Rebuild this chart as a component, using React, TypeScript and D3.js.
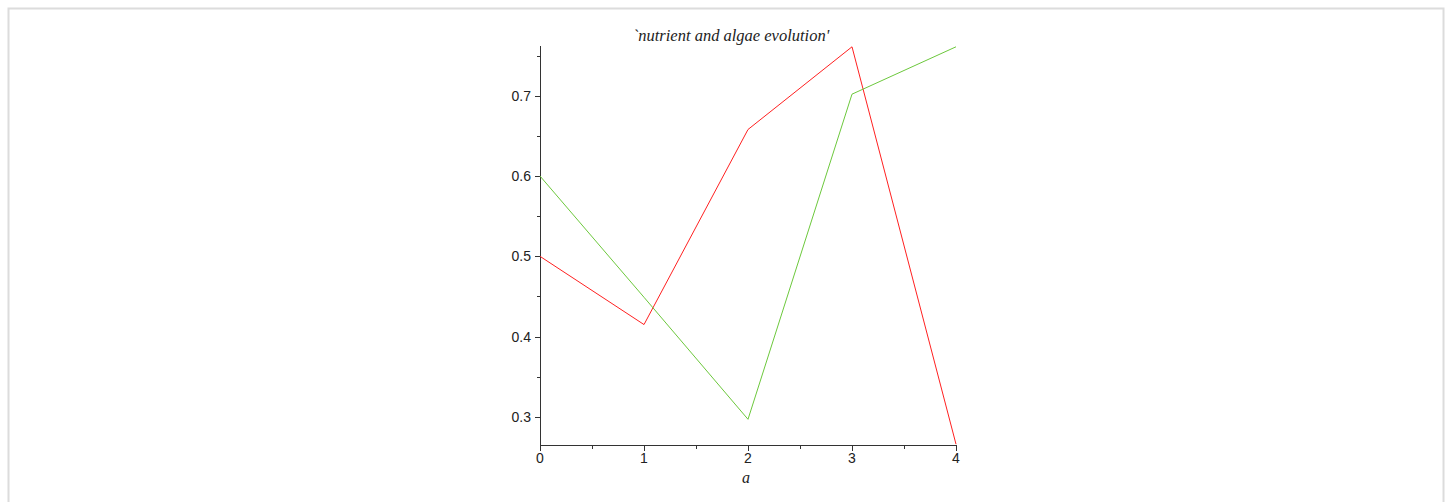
import React, { useEffect, useRef } from 'react';
import * as d3 from 'd3';

// x values (a) and the two series
const aValues = [0, 1, 2, 3, 4];
const nutrient = [0.5, 0.415, 0.658, 0.761, 0.266];
const algae = [0.6, 0.449, 0.297, 0.702, 0.761];
const xTicks = [0, 1, 2, 3, 4];
const xMinorTicks = [0.5, 1.5, 2.5, 3.5];
const yTicks = [0.3, 0.4, 0.5, 0.6, 0.7];
const yMinorTicks = [0.35, 0.45, 0.55, 0.65, 0.75];
const title = "`nutrient and algae evolution'";
const xLabel = 'a';

export default function App() {
  const ref = useRef<SVGSVGElement>(null);

  useEffect(() => {
    const svg = d3.select(ref.current);
    svg.selectAll('*').remove();

    // page frame
    svg.append('rect')
      .attr('x', 8.5).attr('y', 8.5)
      .attr('width', 1435).attr('height', 500)
      .attr('fill', 'none')
      .attr('stroke', '#dcdcdc')
      .attr('stroke-width', 2);

    const x = d3.scaleLinear().domain([0, 4]).range([540, 956]);
    const y = d3.scaleLinear().domain([0.265, 0.762]).range([445, 46]);

    const axisColor = '#333';
    const g = svg.append('g');

    // y axis
    g.append('line')
      .attr('x1', 540.5).attr('x2', 540.5)
      .attr('y1', y(0.762)).attr('y2', 445.5)
      .attr('stroke', axisColor);
    g.selectAll('.ytick').data(yTicks).enter().append('line')
      .attr('x1', 535).attr('x2', 540)
      .attr('y1', d => Math.round(y(d)) + 0.5).attr('y2', d => Math.round(y(d)) + 0.5)
      .attr('stroke', axisColor);
    g.selectAll('.yminor').data(yMinorTicks).enter().append('line')
      .attr('x1', 537).attr('x2', 540)
      .attr('y1', d => Math.round(y(d)) + 0.5).attr('y2', d => Math.round(y(d)) + 0.5)
      .attr('stroke', axisColor);
    g.selectAll('.ylab').data(yTicks).enter().append('text')
      .attr('x', 531).attr('y', d => y(d) + 5)
      .attr('text-anchor', 'end')
      .attr('font-family', 'Liberation Sans, sans-serif')
      .attr('font-size', 14)
      .attr('fill', '#222')
      .text(d => d3.format('.1f')(d));

    // x axis
    g.append('line')
      .attr('x1', 540).attr('x2', 956)
      .attr('y1', 445.5).attr('y2', 445.5)
      .attr('stroke', axisColor);
    g.selectAll('.xtick').data(xTicks).enter().append('line')
      .attr('x1', d => Math.round(x(d)) + 0.5).attr('x2', d => Math.round(x(d)) + 0.5)
      .attr('y1', 445).attr('y2', 451)
      .attr('stroke', axisColor);
    g.selectAll('.xminor').data(xMinorTicks).enter().append('line')
      .attr('x1', d => Math.round(x(d)) + 0.5).attr('x2', d => Math.round(x(d)) + 0.5)
      .attr('y1', 445).attr('y2', 449)
      .attr('stroke', axisColor);
    g.selectAll('.xlab').data(xTicks).enter().append('text')
      .attr('x', d => x(d)).attr('y', 463)
      .attr('text-anchor', 'middle')
      .attr('font-family', 'Liberation Sans, sans-serif')
      .attr('font-size', 14)
      .attr('fill', '#222')
      .text(d => String(d));

    g.append('text')
      .attr('x', 746).attr('y', 483)
      .attr('text-anchor', 'middle')
      .attr('font-family', 'Liberation Serif, serif')
      .attr('font-style', 'italic')
      .attr('font-size', 16)
      .attr('fill', '#222')
      .text(xLabel);

    // title
    svg.append('text')
      .attr('x', 731).attr('y', 41)
      .attr('text-anchor', 'middle')
      .attr('font-family', 'Liberation Serif, serif')
      .attr('font-style', 'italic')
      .attr('font-size', 16.5)
      .attr('fill', '#222')
      .text(title);

    const line = d3.line<number>()
      .x((_, i) => x(aValues[i]))
      .y(d => y(d));

    svg.append('path')
      .datum(nutrient)
      .attr('d', line)
      .attr('fill', 'none')
      .attr('stroke', '#ff2020')
      .attr('stroke-width', 1);

    svg.append('path')
      .datum(algae)
      .attr('d', line)
      .attr('fill', 'none')
      .attr('stroke', '#6cc83c')
      .attr('stroke-width', 1);
  }, []);

  return (
    <svg
      ref={ref}
      width={1451}
      height={502}
      style={{ position: 'absolute', left: 0, top: 0, background: '#fff' }}
    />
  );
}
